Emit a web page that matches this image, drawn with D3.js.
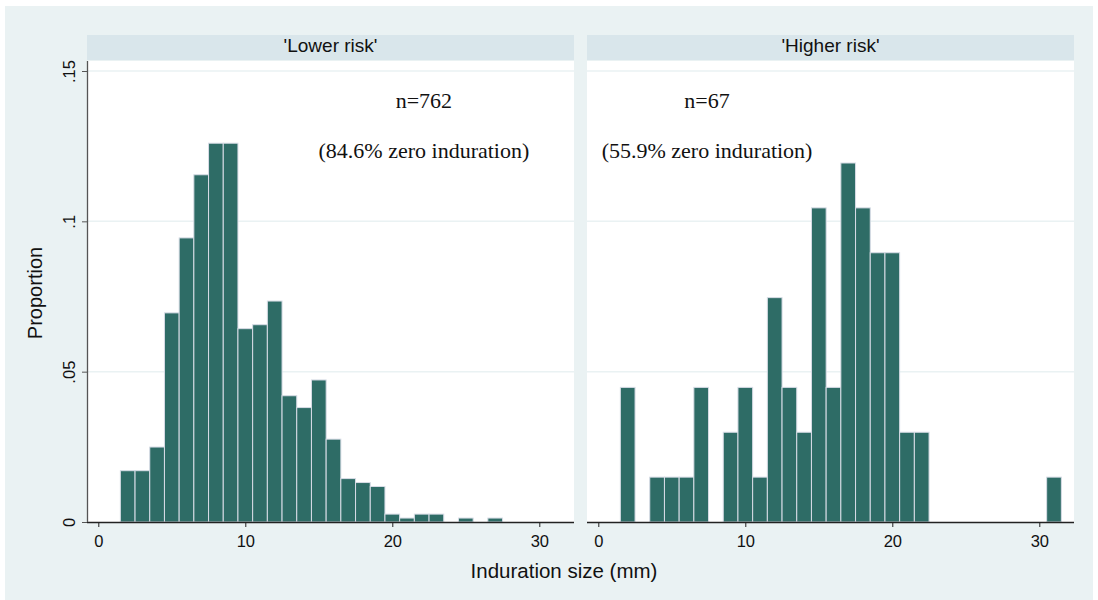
<!DOCTYPE html>
<html>
<head>
<meta charset="utf-8">
<script src="https://cdn.jsdelivr.net/npm/d3@7"></script>
<style>
    body { margin: 0; background: #fff; }
    svg text { font-family: "Liberation Sans", Arial, sans-serif; }
    .note { font-family: "Liberation Serif", "Times New Roman", serif; }
</style>
</head>
<body>
<svg width="1098" height="600"></svg>
<script>
// induration size (mm) and number of children per size, by group
const lowerSize = [2, 3, 4, 5, 6, 7, 8, 9, 10, 11, 12, 13, 14, 15, 16, 17, 18, 19, 20, 21, 22, 23, 25, 27];
const lowerCount = [13, 13, 19, 53, 72, 88, 96, 96, 49, 50, 56, 32, 29, 36, 21, 11, 10, 9, 2, 1, 2, 2, 1, 1];
const higherSize = [2, 4, 5, 6, 7, 9, 10, 11, 12, 13, 14, 15, 16, 17, 18, 19, 20, 21, 22, 31];
const higherCount = [3, 1, 1, 1, 3, 2, 3, 1, 5, 3, 2, 7, 3, 8, 7, 6, 6, 2, 2, 1];

const panelTitles = ["'Lower risk'", "'Higher risk'"];
const panelN = [762, 67];
const panelZero = ["84.6", "55.9"];
const noteAt = [22.15, 7.4];
const xTicks = [0, 10, 20, 30];
const yTicks = [0, 0.05, 0.1, 0.15];

let svg = d3.select("svg");

let settings = {
    panelLeft: [87, 587],
    panelWidth: 487,
    plotTop: 61,
    plotBottom: 522,
    stripTop: 35,
    stripHeight: 25,
    barFill: "#2e6c66",
    barStroke: "#d8dce6",
    tickFont: 16.5
};

let y = d3.scaleLinear()
    .domain([0, 0.15])
    .range([settings.plotBottom, 71]);

//outer background
svg.append("rect")
    .attr("x", 5).attr("y", 6)
    .attr("width", 1088).attr("height", 594)
    .attr("fill", "#eaf2f3");

function drawPanel(i, sizes, counts) {
    let left = settings.panelLeft[i];
    let x = d3.scaleLinear()
        .domain([0, 30])
        .range([left + 11.3, left + 11.3 + 30 * 14.7]);
    let g = svg.append("g");

    //strip
    g.append("rect")
        .attr("x", left).attr("y", settings.stripTop)
        .attr("width", settings.panelWidth).attr("height", settings.stripHeight)
        .attr("fill", "#d9e6eb");
    g.append("text")
        .attr("x", left + settings.panelWidth / 2)
        .attr("y", 52)
        .attr("text-anchor", "middle")
        .attr("font-size", 19)
        .attr("fill", "#111")
        .text(panelTitles[i]);

    //plot area
    g.append("rect")
        .attr("x", left).attr("y", settings.plotTop)
        .attr("width", settings.panelWidth).attr("height", settings.plotBottom - settings.plotTop)
        .attr("fill", "#fff");

    //grid lines
    g.selectAll(".grid")
        .data(yTicks.slice(1))
        .enter().append("line")
        .attr("x1", left).attr("x2", left + settings.panelWidth)
        .attr("y1", d => y(d)).attr("y2", d => y(d))
        .attr("stroke", "#eaf2f3")
        .attr("stroke-width", 1.5);

    //bars
    g.selectAll(".bar")
        .data(sizes)
        .enter().append("rect")
        .attr("x", d => x(d - 0.5))
        .attr("width", d => x(d + 0.5) - x(d - 0.5))
        .attr("y", (d, j) => y(counts[j] / panelN[i]))
        .attr("height", (d, j) => y(0) - y(counts[j] / panelN[i]))
        .attr("fill", settings.barFill)
        .attr("stroke", settings.barStroke)
        .attr("stroke-width", 1);

    //x axis
    let xAxis = g.append("g")
        .attr("transform", "translate(0," + settings.plotBottom + ")")
        .call(d3.axisBottom(x).tickValues(xTicks).tickSize(5).tickPadding(8).tickFormat(d3.format("d")));
    xAxis.select(".domain")
        .attr("d", "M" + left + ",0.5H" + (left + settings.panelWidth))
        .attr("stroke", "#222")
        .attr("stroke-width", 1.3);
    xAxis.selectAll(".tick line").attr("stroke", "#222");
    xAxis.selectAll(".tick text")
        .attr("font-size", settings.tickFont)
        .attr("font-family", "Liberation Sans, Arial, sans-serif")
        .attr("fill", "#111");

    //notes
    g.append("text")
        .attr("class", "note")
        .attr("x", x(noteAt[i])).attr("y", 108)
        .attr("text-anchor", "middle")
        .attr("font-size", 22)
        .attr("fill", "#111")
        .text("n=" + panelN[i]);
    g.append("text")
        .attr("class", "note")
        .attr("x", x(noteAt[i])).attr("y", 158)
        .attr("text-anchor", "middle")
        .attr("font-size", 22)
        .attr("fill", "#111")
        .text("(" + panelZero[i] + "% zero induration)");

    return g;
}

drawPanel(0, lowerSize, lowerCount);
drawPanel(1, higherSize, higherCount);

//y axis on the left panel only
let yAxis = svg.append("g")
    .attr("transform", "translate(" + settings.panelLeft[0] + ",0)")
    .call(d3.axisLeft(y).tickValues(yTicks).tickSize(5).tickFormat(d => d === 0 ? "0" : d3.format(".2")(d).replace(/^0/, "")));
yAxis.select(".domain")
    .attr("d", "M0.5," + settings.plotTop + "V" + settings.plotBottom)
    .attr("stroke", "#555")
    .attr("stroke-width", 1.3);
yAxis.selectAll(".tick line").attr("stroke", "#555");
yAxis.selectAll(".tick text")
    .attr("font-size", settings.tickFont)
    .attr("font-family", "Liberation Sans, Arial, sans-serif")
    .attr("fill", "#111")
    .attr("text-anchor", "middle")
    .attr("x", 0)
    .attr("dy", 0)
    .attr("transform", "translate(-12,0) rotate(-90)");

//axis titles
svg.append("text")
    .attr("x", 564).attr("y", 578)
    .attr("text-anchor", "middle")
    .attr("font-size", 20.5)
    .attr("fill", "#111")
    .text("Induration size (mm)");

svg.append("text")
    .attr("transform", "translate(42,293) rotate(-90)")
    .attr("text-anchor", "middle")
    .attr("font-size", 20)
    .attr("fill", "#111")
    .text("Proportion");
</script>
</body>
</html>
